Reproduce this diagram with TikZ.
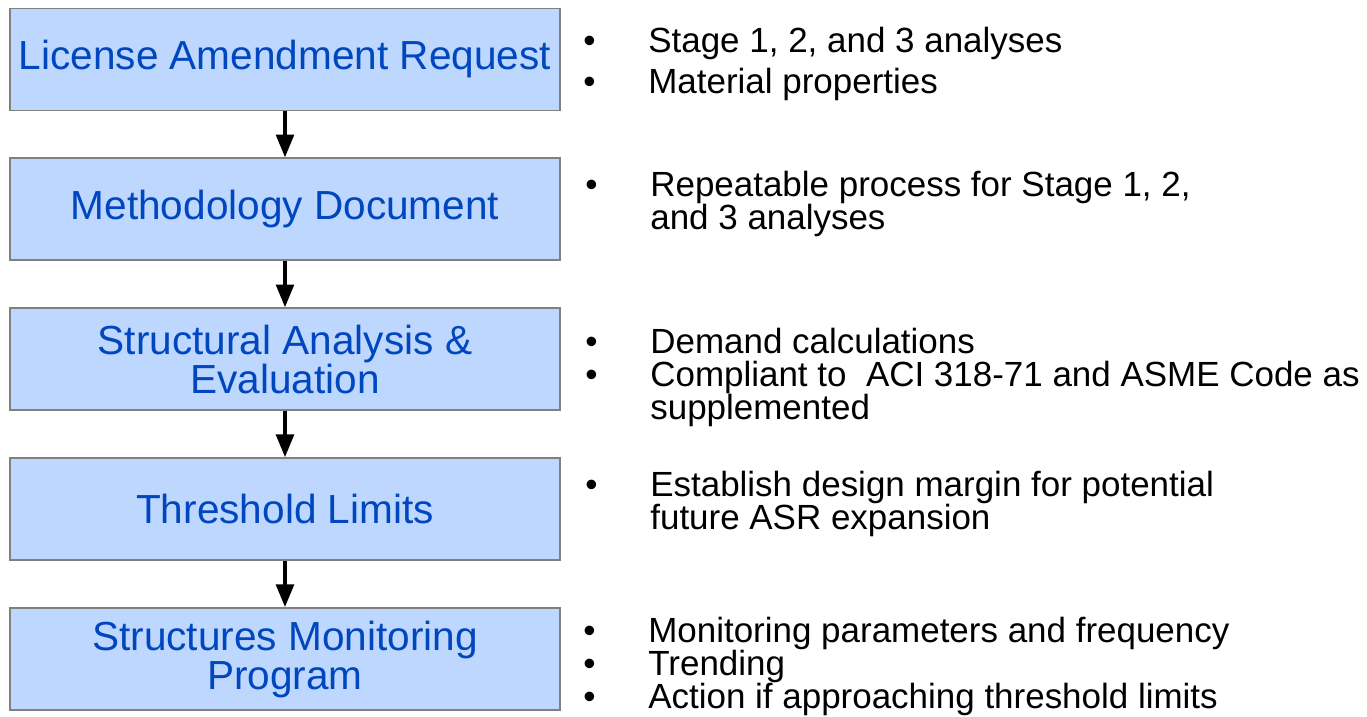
\documentclass[tikz,border=0pt]{standalone}
\usepackage{fontspec}
\setmainfont{Liberation Sans}
\usetikzlibrary{positioning, arrows.meta}
\definecolor{boxfill}{RGB}{189,215,254}
\definecolor{boxtext}{RGB}{0,70,190}
\definecolor{boxline}{RGB}{128,128,128}
\tikzstyle{stagebox}=[rectangle, draw=boxline, line width=1.1pt, fill=boxfill, text=boxtext, minimum width=11cm, minimum height=2.04cm, align=center, inner sep=0pt, font=\fontsize{23.1}{22.2}\selectfont]
\tikzstyle{flowarrow}=[-{Triangle[width=10pt,length=13pt]}, line width=2.3pt]
\tikzstyle{notes}=[anchor=west, align=left, inner sep=0pt, font=\fontsize{19.9}{18.8}\selectfont]
\newcommand{\bul}{\makebox[1.3cm][l]{•}}
\newcommand{\ind}{\hspace*{1.3cm}}

\begin{document}
\begin{tikzpicture}[x=0.02cm, y=-0.02cm, node distance=0.92cm]
        \useasboundingbox (0,0) rectangle (1367,717);

        \node[stagebox] (lar) at (285,59.5) {License Amendment Request};
        \node[stagebox, below =of lar] (meth) {Methodology Document};
        \node[stagebox, below =of meth] (sae) {Structural Analysis \&\\Evaluation};
        \node[stagebox, below =of sae] (thr) {Threshold Limits};
        \node[stagebox, below =of thr] (smp) {Structures Monitoring\\Program};

        \draw[flowarrow] (lar) -- (meth);
        \draw[flowarrow] (meth) -- (sae);
        \draw[flowarrow] (sae) -- (thr);
        \draw[flowarrow] (thr) -- (smp);

        % bullet lists beside the boxes
        \node[notes, font=\fontsize{19.9}{23.3}\selectfont] (n1) at (583,64)
            {\bul Stage 1, 2, and 3 analyses\\\bul Material properties};
        \node[notes] (n2) at (585,204)
            {\bul Repeatable process for Stage 1, 2,\\\ind and 3 analyses};
        \node[notes] (n3) at (585,377)
            {\bul Demand calculations\\\bul Compliant to\ \ ACI 318-71 and ASME Code as\\\ind supplemented};
        \node[notes] (n4) at (585,504)
            {\bul Establish design margin for potential\\\ind future ASR expansion};
        \node[notes] (n5) at (583,666)
            {\bul Monitoring parameters and frequency\\\bul Trending\\\bul Action if approaching threshold limits};
\end{tikzpicture}
\end{document}
